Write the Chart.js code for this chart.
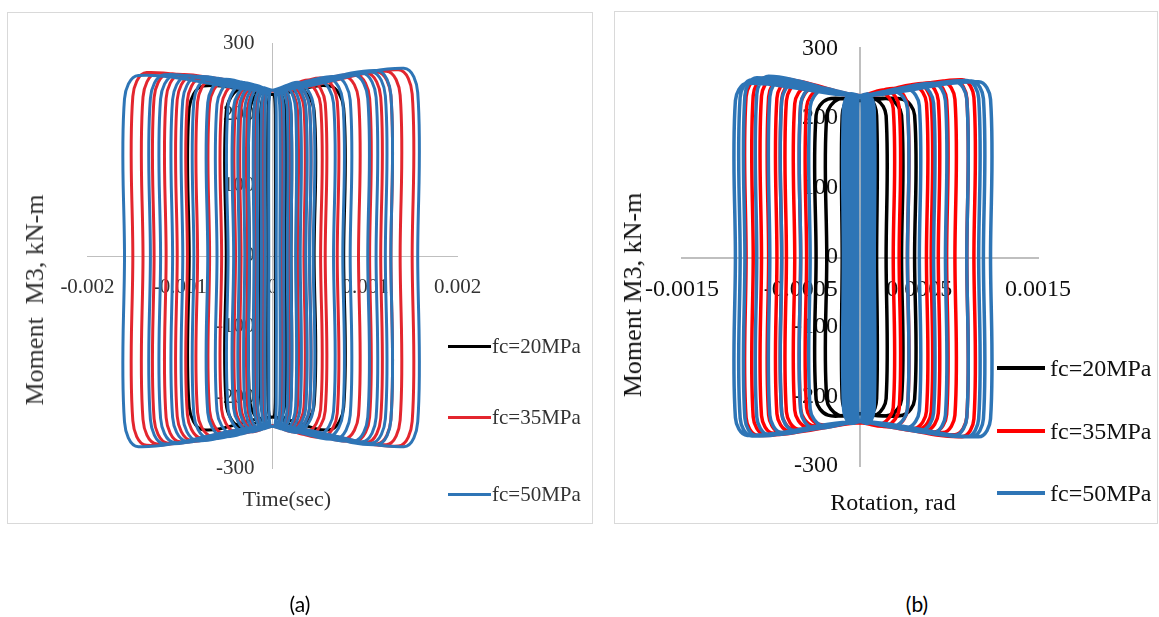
<!DOCTYPE html>
<html>
<head>
<meta charset="utf-8">
<script src="https://cdn.jsdelivr.net/npm/chart.js@4.4.1/dist/chart.umd.min.js"></script>
<style>
  html, body { margin: 0; padding: 0; background: #fff; }
  body { width: 1159px; height: 617px; position: relative; overflow: hidden; font-family: "Liberation Serif", "Times New Roman", serif; }
  .panel { position: absolute; border: 1.5px solid #d9d9d9; box-sizing: border-box; }
  .cv { position: absolute; }
  .t { position: absolute; white-space: nowrap; line-height: 1; }
  .rot { transform: translate(-50%, -50%) rotate(-90deg); }
  .ctr { transform: translate(-50%, -50%); }
  .sw { position: absolute; height: 3px; }
  .cap { position: absolute; font-family: "Lato", "Open Sans", sans-serif; font-size: 21px; color: #000; transform: translate(-50%, -50%); }
</style>
</head>
<body>
<div class="panel" style="left:7px;top:12px;width:586px;height:512px;"></div>
<div class="panel" style="left:614px;top:11px;width:544px;height:513px;"></div>

<div class="cv" style="left:8px;top:13px;width:584px;height:510px;"><canvas id="ca"></canvas></div>
<div class="cv" style="left:616px;top:12px;width:540px;height:510px;"><canvas id="cb"></canvas></div>

<!-- panel (a) texts -->
<div class="t rot" style="left:35px;top:300px;font-size:26px;color:#333;">Moment&nbsp; M3, kN-m</div>
<div class="t ctr" style="left:287px;top:499px;font-size:22px;color:#333;">Time(sec)</div>
<div class="sw" style="left:448px;top:345px;width:43px;background:#000;"></div>
<div class="t" style="left:492px;top:336px;font-size:21px;color:#333;">fc=20MPa</div>
<div class="sw" style="left:448px;top:416px;width:43px;background:#E3262E;"></div>
<div class="t" style="left:492px;top:407px;font-size:21px;color:#333;">fc=35MPa</div>
<div class="sw" style="left:448px;top:493px;width:43px;background:#2E75B6;"></div>
<div class="t" style="left:492px;top:484px;font-size:21px;color:#333;">fc=50MPa</div>

<!-- panel (b) texts -->
<div class="t rot" style="left:633px;top:295px;font-size:26px;color:#111;">Moment M3, kN-m</div>
<div class="t ctr" style="left:893px;top:502px;font-size:24px;color:#111;">Rotation, rad</div>
<div class="sw" style="left:997px;top:366px;width:48px;height:4px;background:#000;"></div>
<div class="t" style="left:1050px;top:356px;font-size:24px;color:#111;">fc=20MPa</div>
<div class="sw" style="left:997px;top:429px;width:48px;height:4px;background:#FF0000;"></div>
<div class="t" style="left:1050px;top:419px;font-size:24px;color:#111;">fc=35MPa</div>
<div class="sw" style="left:997px;top:491px;width:48px;height:4px;background:#2E75B6;"></div>
<div class="t" style="left:1050px;top:481px;font-size:24px;color:#111;">fc=50MPa</div>

<div class="cap" style="left:300px;top:603px;">(a)</div>
<div class="cap" style="left:917px;top:603px;">(b)</div>

<script>
// ---------- tick values / labels ----------
const aXTicks  = [-0.002, -0.001, 0, 0.001, 0.002];
const aXLabels = ['-0.002', '-0.001', '0', '0.001', '0.002'];
const bXTicks  = [-0.0015, -0.0005, 0.0005, 0.0015];
const bXLabels = ['-0.0015', '-0.0005', '0.0005', '0.0015'];
const yTicks   = [-300, -200, -100, 0, 100, 200, 300];
const yLabels  = ['-300', '-200', '-100', '0', '100', '200', '300'];

// ---------- loop data ----------
// each row: [left extent, right extent, top-left peak, top-right peak, bottom-left peak, bottom-right peak]
// panel (a)
const aFc20Loops = [
  [-0.00005, 0.00003, 228, 228, -228, -228],
  [-0.00013, 0.00014, 229, 229, -229, -229],
  [-0.00025, 0.00020, 230, 230, -230, -230],
  [-0.00050, 0.00045, 236, 236, -242, -242],
  [-0.00090, 0.00077, 240, 240, -246, -246]
];
const aFc35Loops = [
  [-0.00010, 0.00010, 233, 233, -240, -240],
  [-0.00018, 0.00018, 235, 235, -242, -242],
  [-0.00027, 0.00027, 237, 237, -244, -244],
  [-0.00034, 0.00034, 239, 240, -246, -246],
  [-0.00040, 0.00040, 241, 242, -248, -248],
  [-0.00055, 0.00052, 244, 245, -250, -250],
  [-0.00068, 0.00057, 247, 248, -252, -252],
  [-0.00081, 0.00070, 250, 251, -255, -256],
  [-0.00092, 0.00093, 252, 254, -258, -259],
  [-0.00103, 0.00105, 254, 256, -261, -262],
  [-0.00115, 0.00117, 256, 258, -263, -264],
  [-0.00128, 0.00128, 257, 260, -265, -266],
  [-0.00140, 0.00138, 258, 261, -266, -267],
  [-0.00151, 0.00151, 259, 263, -268, -269]
];
const aFc50Loops = [
  [-0.00004, 0.00004, 234, 234, -241, -241],
  [-0.00008, 0.00008, 234, 234, -241, -241],
  [-0.00012, 0.00012, 235, 235, -242, -242],
  [-0.00016, 0.00016, 236, 236, -243, -243],
  [-0.00020, 0.00020, 237, 237, -244, -244],
  [-0.00025, 0.00025, 238, 238, -245, -245],
  [-0.00030, 0.00030, 239, 240, -246, -246],
  [-0.00036, 0.00036, 241, 242, -247, -247],
  [-0.00042, 0.00040, 242, 243, -248, -248],
  [-0.00048, 0.00044, 244, 245, -249, -249],
  [-0.00060, 0.00066, 246, 248, -252, -253],
  [-0.00070, 0.00076, 249, 251, -255, -256],
  [-0.00085, 0.00084, 251, 253, -258, -259],
  [-0.00097, 0.00103, 253, 256, -261, -262],
  [-0.00108, 0.00112, 254, 258, -262, -263],
  [-0.00121, 0.00122, 255, 260, -264, -265],
  [-0.00132, 0.00128, 256, 262, -266, -267],
  [-0.00160, 0.00157, 255, 265, -270, -270]
];
// centre dip of the loop envelope [top, bottom]
const aDip = { fc20: [228, -228], fc35: [233, -241], fc50: [234, -241] };

// panel (b)
const bFc20Loops = [
  [-0.00008, 0.00014, 226, 226, -226, -226],
  [-0.00015, 0.00022, 226, 226, -226, -226],
  [-0.00028, 0.00035, 227, 227, -227, -227],
  [-0.00037, 0.00046, 227, 227, -227, -227]
];
const bFc35Loops = [
  [-0.00045, 0.00028, 240, 238, -240, -240],
  [-0.00050, 0.00033, 243, 240, -242, -242],
  [-0.00055, 0.00040, 245, 242, -244, -243],
  [-0.00062, 0.00056, 250, 246, -247, -246],
  [-0.00066, 0.00060, 252, 248, -248, -247],
  [-0.00070, 0.00066, 254, 250, -250, -249],
  [-0.00077, 0.00073, 256, 251, -252, -251],
  [-0.00083, 0.00080, 257, 252, -253, -252],
  [-0.00090, 0.00090, 258, 254, -255, -255],
  [-0.00096, 0.00096, 256, 255, -256, -258]
];
const bFc50Loops = [
  [-0.00002, 0.00002, 232, 232, -236, -236],
  [-0.00004, 0.00004, 232, 232, -236, -236],
  [-0.00006, 0.00006, 232, 232, -236, -236],
  [-0.00008, 0.00008, 233, 233, -237, -237],
  [-0.00010, 0.00010, 233, 233, -237, -237],
  [-0.00012, 0.00011, 234, 234, -238, -238],
  [-0.00014, 0.00012, 234, 234, -238, -238],
  [-0.00042, 0.00040, 240, 238, -242, -242],
  [-0.00050, 0.00050, 244, 242, -245, -245],
  [-0.00066, 0.00062, 250, 246, -249, -249],
  [-0.00076, 0.00072, 256, 250, -252, -252],
  [-0.00087, 0.00090, 260, 252, -255, -256],
  [-0.00097, 0.00100, 258, 254, -257, -258],
  [-0.00101, 0.00104, 255, 253, -257, -258],
  [-0.00105, 0.00110, 250, 252, -256, -258]
];
const bDip = { fc20: [225, -225], fc35: [232, -238], fc50: [232, -236] };

// ---------- build library datasets from the loop tables ----------
function buildLoops(rows, dip, corner, side) {
  const pts = [];
  rows.forEach(([xL, xR, tL, tR, bL, bR]) => {
    const cl = Math.min(corner, -xL * 0.35), cr = Math.min(corner, xR * 0.35);
    const dT = Math.min(dip[0], tL, tR), dB = Math.max(dip[1], bL, bR);
    pts.push(
      {x: xL, y: 0}, {x: xL, y: tL * side}, {x: xL + cl, y: tL}, {x: 0, y: dT},
      {x: xR - cr, y: tR}, {x: xR, y: tR * side}, {x: xR, y: 0},
      {x: xR, y: bR * side}, {x: xR - cr, y: bR}, {x: 0, y: dB},
      {x: xL + cl, y: bL}, {x: xL, y: bL * side}, {x: xL, y: 0},
      {x: null, y: null}
    );
  });
  return pts;
}

function makeChart(id, cfg) {
  const font = {family: '"Liberation Serif", serif', size: cfg.fontSize};
  const ds = (label, rows, dip, color) => ({
    label, data: buildLoops(rows, dip, cfg.corner, cfg.side),
    borderColor: color, backgroundColor: color, borderWidth: cfg.lw,
    showLine: true, pointRadius: 0, tension: 0.35, fill: false, spanGaps: false
  });
  return new Chart(document.getElementById(id), {
    type: 'scatter',
    data: {
      // dataset 0 is painted last (on top): fc=50 over fc=35 over fc=20
      datasets: [
        ds('fc=50MPa', cfg.fc50, cfg.dip.fc50, '#2E75B6'),
        ds('fc=35MPa', cfg.fc35, cfg.dip.fc35, cfg.red),
        ds('fc=20MPa', cfg.fc20, cfg.dip.fc20, '#000000')
      ]
    },
    options: {
      responsive: true, maintainAspectRatio: false, animation: false,
      layout: { padding: cfg.pad },
      plugins: { legend: { display: false }, tooltip: { enabled: false } },
      scales: {
        x: {
          type: 'linear', min: cfg.xMin, max: cfg.xMax, position: 'center',
          afterBuildTicks: s => { s.ticks = cfg.xTicks.map(v => ({ value: v })); },
          afterFit: s => { s.height = 0; },
          ticks: { callback: v => cfg.xLabels[cfg.xTicks.indexOf(v)], padding: cfg.xPad, font, color: cfg.tc, maxRotation: 0, autoSkip: false },
          grid: { display: false, drawTicks: false },
          border: { display: true, color: '#bfbfbf', width: cfg.axW }
        },
        y: {
          type: 'linear', min: -300, max: 300, position: 'center',
          afterBuildTicks: s => { s.ticks = yTicks.map(v => ({ value: v })); },
          afterFit: s => { s.width = 0; },
          ticks: { callback: v => yLabels[yTicks.indexOf(v)], padding: cfg.yPad, font, color: cfg.tc, autoSkip: false },
          grid: { display: false, drawTicks: false },
          border: { display: true, color: '#bfbfbf', width: cfg.axW }
        }
      }
    }
  });
}

makeChart('ca', {
  fc20: aFc20Loops, fc35: aFc35Loops, fc50: aFc50Loops, dip: aDip,
  xMin: -0.002, xMax: 0.002, xTicks: aXTicks, xLabels: aXLabels,
  pad: { left: 79.5, top: 25, right: 134.5, bottom: 55 },
  fontSize: 21, tc: '#333', xPad: 19, yPad: 18, lw: 3, axW: 1,
  corner: 0.00015, side: 0.87, red: '#E3262E'
});
makeChart('cb', {
  fc20: bFc20Loops, fc35: bFc35Loops, fc50: bFc50Loops, dip: bDip,
  xMin: -0.0015, xMax: 0.0015, xTicks: bXTicks, xLabels: bXLabels,
  pad: { left: 66, top: 33, right: 118, bottom: 56 },
  fontSize: 24, tc: '#111', xPad: 18, yPad: 22, lw: 3.5, axW: 2,
  corner: 0.0001, side: 0.9, red: '#FF0000'
});
</script>
</body>
</html>
